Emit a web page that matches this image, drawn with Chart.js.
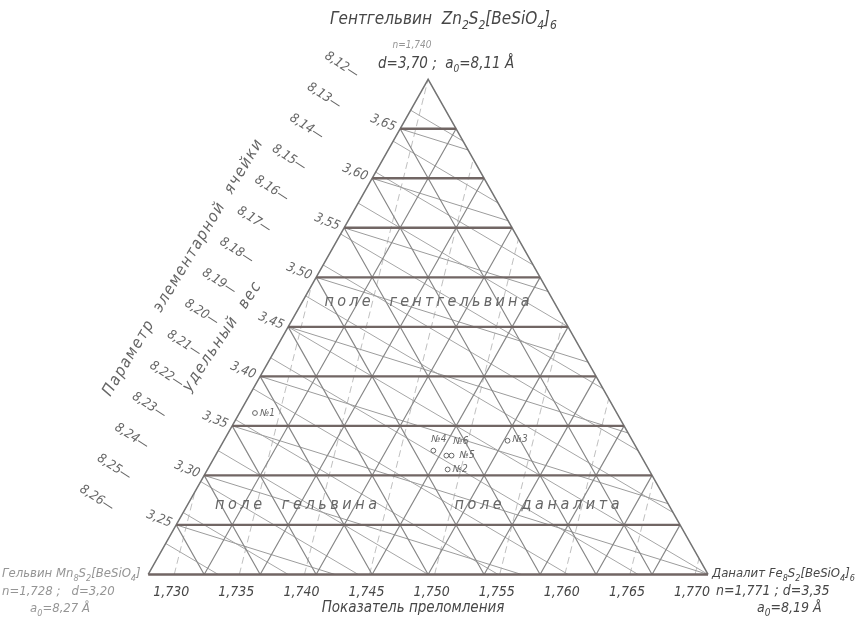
<!DOCTYPE html>
<html>
<head>
<meta charset="utf-8">
<script src="https://cdn.jsdelivr.net/npm/chart.js@4.4.0/dist/chart.umd.min.js"></script>
<style>
  html, body { margin: 0; padding: 0; background: #ffffff; }
  canvas { display: block; }
</style>
</head>
<body>
<canvas id="diagram" width="862" height="624"></canvas>
<script>
// End members of the helvine group: helvine (Mn), danalite (Fe), genthelvite (Zn)
const endNames   = ['Гельвин', 'Даналит', 'Гентгельвин'];
const endIndex   = [1.728, 1.771, 1.740];   // refractive index n
const endDensity = [3.20, 3.35, 3.70];      // specific gravity d
const endCell    = [8.27, 8.19, 8.11];      // cell parameter a0, Å

// Scale levels
const densityLevels = [3.25, 3.30, 3.35, 3.40, 3.45, 3.50, 3.55, 3.60, 3.65];
const indexTicks    = [1.730, 1.735, 1.740, 1.745, 1.750, 1.755, 1.760, 1.765, 1.770];
const cellLevels    = [8.12, 8.13, 8.14, 8.15, 8.16, 8.17, 8.18, 8.19, 8.20, 8.21, 8.22, 8.23, 8.24, 8.25, 8.26];
const gridSteps     = [0.1, 0.2, 0.3, 0.4, 0.5, 0.6, 0.7, 0.8, 0.9];

// Analysed samples, in the diagram plane (x: index base scale, y: density scale)
const sampleNames = ['№1', '№2', '№3', '№4', '№5', '№6'];
const sampleX     = [1.7362, 1.7510, 1.7556, 1.7499, 1.7513, 1.7509];
const sampleY     = [3.363, 3.306, 3.335, 3.325, 3.320, 3.320];

const FAM = '"Liberation Sans Narrow","DejaVu Sans Condensed","Liberation Sans",sans-serif';

// Triangle corners in the plane: the base carries the index scale, height the density scale
const corner = [
  { x: endIndex[0], y: endDensity[0] },
  { x: endIndex[1], y: endDensity[0] },
  { x: (endIndex[0] + endIndex[1]) / 2, y: endDensity[2] }
];

function at(f) {   // f = [Mn, Fe, Zn] fractions
  return {
    x: f[0] * corner[0].x + f[1] * corner[1].x + f[2] * corner[2].x,
    y: f[0] * corner[0].y + f[1] * corner[1].y + f[2] * corner[2].y
  };
}

// Line of constant value for a property that is linear in composition
function isoline(vals, level) {
  const pts = [];
  for (const [i, j] of [[0, 1], [1, 2], [2, 0]]) {
    const a = vals[i], b = vals[j];
    if (a === b) continue;
    const t = (level - a) / (b - a);
    if (t < -1e-9 || t > 1 + 1e-9) continue;
    const f = [0, 0, 0]; f[i] = 1 - t; f[j] = t;
    const p = at(f);
    if (!pts.some(q => Math.abs(q.x - p.x) < 1e-9 && Math.abs(q.y - p.y) < 1e-9)) pts.push(p);
  }
  return pts.slice(0, 2);
}

const GAP = { x: NaN, y: NaN };
function joined(segs) {
  const out = [];
  segs.forEach(s => { out.push(...s, GAP); });
  return out;
}

const zFrac = d => (d - endDensity[0]) / (endDensity[2] - endDensity[0]);

const horizontals = joined([0].concat(densityLevels.map(zFrac)).map(f => [at([1 - f, 0, f]), at([0, 1 - f, f])]));
const sides = [at([0, 1, 0]), at([0, 0, 1]), at([1, 0, 0])];
const grid = joined(gridSteps.flatMap(s => [
  [at([1 - s, s, 0]), at([0, s, 1 - s])],
  [at([s, 1 - s, 0]), at([s, 0, 1 - s])]
]));
const cellLines    = joined(cellLevels.map(v => isoline(endCell, v)));
const densityLines = joined(densityLevels.map(v => isoline(endDensity, v)));
const indexLines   = joined(indexTicks.map(v => isoline(endIndex, v)));
const samples = sampleX.map((x, i) => ({ x, y: sampleY[i] }));

function lineSet(data, color, width, order, dash) {
  return {
    type: 'line', data, showLine: true, spanGaps: false,
    borderColor: color, borderWidth: width, borderDash: dash || [],
    pointRadius: 0, fill: false, tension: 0, order
  };
}

// ---- text helpers ----
function fnt(size) { return 'italic ' + size + 'px ' + FAM; }

// runs: [text, isSubscript]
function rich(ctx, runs, x, y, size, color, align) {
  const sub = Math.round(size * 0.68);
  let w = 0;
  runs.forEach(([t, s]) => { ctx.font = fnt(s ? sub : size); w += ctx.measureText(t).width; });
  let cx = align === 'center' ? x - w / 2 : (align === 'right' ? x - w : x);
  ctx.fillStyle = color;
  ctx.textAlign = 'left';
  ctx.textBaseline = 'alphabetic';
  runs.forEach(([t, s]) => {
    ctx.font = fnt(s ? sub : size);
    ctx.fillText(t, cx, s ? y + size * 0.28 : y);
    cx += ctx.measureText(t).width;
  });
}

// Text spread to a given length, centred at (cx, cy) and turned by angle
function spread(ctx, text, cx, cy, angleDeg, size, length, color) {
  ctx.save();
  ctx.font = fnt(size);
  ctx.fillStyle = color;
  ctx.textAlign = 'left';
  ctx.textBaseline = 'middle';
  const chars = [...text];
  const widths = chars.map(c => ctx.measureText(c).width);
  const natural = widths.reduce((a, b) => a + b, 0);
  const gap = chars.length > 1 ? (length - natural) / (chars.length - 1) : 0;
  ctx.translate(cx, cy);
  ctx.rotate(angleDeg * Math.PI / 180);
  let x = -length / 2;
  chars.forEach((c, i) => { ctx.fillText(c, x, 0); x += widths[i] + gap; });
  ctx.restore();
}

function turned(ctx, text, x, y, angleDeg, size, color, align) {
  ctx.save();
  ctx.font = fnt(size);
  ctx.fillStyle = color;
  ctx.textAlign = align;
  ctx.textBaseline = 'middle';
  ctx.translate(x, y);
  ctx.rotate(angleDeg * Math.PI / 180);
  ctx.fillText(text, 0, 0);
  ctx.restore();
}

const comma = (v, d) => v.toFixed(d).replace('.', ',');

const labelPlugin = {
  id: 'diagramLabels',
  afterDatasetsDraw(chart) {
    const ctx = chart.ctx;
    const xs = chart.scales.x, ys = chart.scales.y;
    const P = p => ({ x: xs.getPixelForValue(p.x), y: ys.getPixelForValue(p.y) });
    const dark = '#474747', mid = '#666666', faint = '#959595';

    // density scale along the left side
    densityLevels.forEach(d => {
      const f = zFrac(d);
      const e = P(at([1 - f, 0, f]));
      turned(ctx, comma(d, 2), e.x - 5, e.y - 1, 22, 13, mid, 'right');
    });

    // cell parameter scale, set off from the left side
    cellLevels.forEach(v => {
      const f = (endCell[0] - v) / (endCell[0] - endCell[2]);
      const e = P(at([1 - f, 0, f]));
      turned(ctx, comma(v, 2) + '—', e.x - 69, e.y - 45, 33, 13, mid, 'center');
    });

    // refractive index scale under the base
    const base = ys.getPixelForValue(endDensity[0]);
    indexTicks.forEach(v => {
      ctx.font = fnt(14);
      ctx.fillStyle = dark;
      ctx.textAlign = 'center';
      ctx.textBaseline = 'alphabetic';
      ctx.fillText(comma(v, 3), xs.getPixelForValue(v) - 3, base + 22);
    });
    ctx.font = fnt(15);
    ctx.fillStyle = dark;
    ctx.textAlign = 'center';
    ctx.fillText('Показатель преломления', 413, base + 38);

    // side titles
    spread(ctx, 'Параметр  элементарной  ячейки', 183, 268, -59, 16, 296, mid);
    spread(ctx, 'удельный  вес', 222, 337, -56, 16, 128, mid);

    // fields
    spread(ctx, 'поле  гентгельвина', 427, 302, 0, 16, 205, mid);
    spread(ctx, 'поле  гельвина', 296, 505, 0, 16, 162, mid);
    spread(ctx, 'поле  даналита', 537, 505, 0, 16, 165, mid);

    // apex: genthelvite
    rich(ctx, [[endNames[2] + '  Zn', 0], ['2', 1], ['S', 0], ['2', 1], ['[BeSiO', 0], ['4', 1], [']', 0], ['6', 1]],
      330, 24, 17, dark, 'left');
    ctx.font = fnt(10); ctx.fillStyle = faint; ctx.textAlign = 'center';
    ctx.fillText('n=' + comma(endIndex[2], 3), 412, 48);
    rich(ctx, [['d=' + comma(endDensity[2], 2) + ' ;  a', 0], ['0', 1], ['=' + comma(endCell[2], 2) + ' Å', 0]],
      378, 68, 15, dark, 'left');

    // left corner: helvine
    rich(ctx, [[endNames[0] + ' Mn', 0], ['8', 1], ['S', 0], ['2', 1], ['[BeSiO', 0], ['4', 1], [']', 0]],
      2, 577, 13, faint, 'left');
    rich(ctx, [['n=' + comma(endIndex[0], 3) + ' ;   d=' + comma(endDensity[0], 2), 0]], 2, 595, 13, faint, 'left');
    rich(ctx, [['a', 0], ['0', 1], ['=' + comma(endCell[0], 2) + ' Å', 0]], 60, 612, 13, faint, 'center');

    // right corner: danalite
    rich(ctx, [[endNames[1] + ' Fe', 0], ['8', 1], ['S', 0], ['2', 1], ['[BeSiO', 0], ['4', 1], [']', 0], ['6', 1]],
      712, 577, 13, dark, 'left');
    rich(ctx, [['n=' + comma(endIndex[1], 3) + ' ; d=' + comma(endDensity[1], 2), 0]], 716, 595, 14, dark, 'left');
    rich(ctx, [['a', 0], ['0', 1], ['=' + comma(endCell[1], 2) + ' Å', 0]], 757, 612, 14, dark, 'left');

    // sample names
    const nameShift = [[5, 0], [5, 0], [5, -1], [-2, -11], [8, 0], [7, -14]];
    samples.forEach((s, i) => {
      const p = P(s);
      ctx.font = fnt(10);
      ctx.fillStyle = mid;
      ctx.textAlign = 'left';
      ctx.textBaseline = 'middle';
      ctx.fillText(sampleNames[i], p.x + nameShift[i][0], p.y + nameShift[i][1]);
    });
  }
};

new Chart(document.getElementById('diagram').getContext('2d'), {
  type: 'scatter',
  data: {
    datasets: [
      {
        data: samples, pointRadius: 2.4, pointStyle: 'circle',
        borderColor: '#666666', backgroundColor: '#ffffff', borderWidth: 1, order: 0
      },
      lineSet(horizontals, '#716664', 2.4, 1),
      lineSet(sides, '#747474', 1.5, 2),
      lineSet(grid, '#888888', 1.2, 3),
      lineSet(densityLines, '#9c9c9c', 1, 4),
      lineSet(cellLines, '#a6a6a6', 1, 5),
      lineSet(indexLines, '#b8b8b8', 0.9, 6, [7, 4])
    ]
  },
  options: {
    responsive: false,
    animation: false,
    events: [],
    layout: { padding: { left: 4.744, right: 10.744, top: 3.15, bottom: 2.09 } },
    scales: {
      x: { type: 'linear', min: 1.717, max: 1.782, display: false },
      y: { type: 'linear', min: 3.155, max: 3.775, display: false }
    },
    plugins: { legend: { display: false }, tooltip: { enabled: false } }
  },
  plugins: [labelPlugin]
});
</script>
</body>
</html>
